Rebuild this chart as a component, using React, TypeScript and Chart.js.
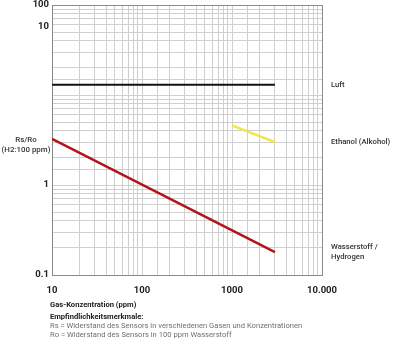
import React, { useEffect, useRef } from "react";
import { Chart, registerables } from "chart.js";

Chart.register(...registerables);

// ---- data ----
const luftConcentration = [10, 3000];
const luftValues = [13, 13];
const ethanolConcentration = [1000, 3000];
const ethanolValues = [4.6, 3.0];
const hydrogenConcentration = [10, 3000];
const hydrogenValues = [3.25, 0.18];

const seriesNames = ["Luft", "Ethanol (Alkohol)", "Wasserstoff / Hydrogen"];
const seriesLabelLines = [["Luft"], ["Ethanol (Alkohol)"], ["Wasserstoff /", "Hydrogen"]];
const seriesColors = ["#111111", "#eee64a", "#b3141c"];

const xTickValues = [10, 100, 1000, 10000];
const xTickLabels = ["10", "100", "1000", "10.000"];
// the reference places its "10" label high up on the axis
const yTickValues = [0.1, 1, 57, 100];
const yTickLabels = ["0.1", "1", "10", "100"];

const yTitleLines = ["Rs/Ro", "(H2:100 ppm)"];
const xTitle = "Gas-Konzentration (ppm)";
const noteTitle = "Empfindlichkeitsmerkmale:";
const noteLines = [
  "Rs = Widerstand des Sensors in verschiedenen Gasen und Konzentrationen",
  "Ro = Widerstand des Sensors in 100 ppm Wasserstoff",
];

const FONT = "Roboto, 'Noto Sans', sans-serif";
const GRID = "#cfcfcf";
const BORDER = "#8a8a8a";

function near(a: number, b: number) {
  return Math.abs(a - b) < 1e-6 * Math.max(1, Math.abs(b));
}

function toPoints(xs: number[], ys: number[]) {
  return xs.map((x, i) => ({ x, y: ys[i] }));
}

const textPlugin = {
  id: "textPlugin",
  afterDraw(chart: any) {
    const ctx = chart.ctx as CanvasRenderingContext2D;
    const { left, right, top, bottom } = chart.chartArea;
    const yScale = chart.scales.y;
    ctx.save();
    ctx.textBaseline = "middle";
    // series labels on the right
    ctx.fillStyle = "#333333";
    ctx.font = `500 7.7px ${FONT}`;
    ctx.textAlign = "left";
    seriesLabelLines.forEach((lines, i) => {
      const ds = chart.data.datasets[i];
      const last = ds.data[ds.data.length - 1];
      const y = yScale.getPixelForValue(last.y);
      lines.forEach((l, j) => {
        ctx.fillText(l, right + 9, y + (j - (lines.length - 1) / 2) * 9.5);
      });
    });
    // y title on the left
    ctx.textAlign = "center";
    ctx.font = `500 7.9px ${FONT}`;
    const mid = (top + bottom) / 2 + 5;
    yTitleLines.forEach((l, j) => {
      ctx.fillText(l, left - 26, mid + (j - (yTitleLines.length - 1) / 2) * 9.5);
    });
    // footer
    ctx.textAlign = "left";
    ctx.fillStyle = "#222222";
    ctx.font = `bold 7.6px ${FONT}`;
    ctx.fillText(xTitle, left - 2, bottom + 30.5);
    ctx.font = `bold 7.6px ${FONT}`;
    ctx.fillText(noteTitle, left - 2, bottom + 42);
    ctx.fillStyle = "#6f6f6f";
    ctx.font = `7.6px ${FONT}`;
    noteLines.forEach((l, j) => {
      ctx.fillText(l, left - 2, bottom + 51 + j * 8.7);
    });
    ctx.restore();
  },
};

export default function App() {
  const ref = useRef<HTMLCanvasElement | null>(null);

  useEffect(() => {
    if (!ref.current) return;
    const chart = new Chart(ref.current, {
      type: "line",
      data: {
        datasets: [
          {
            label: seriesNames[0],
            data: toPoints(luftConcentration, luftValues),
            borderColor: seriesColors[0],
            borderWidth: 2.2,
            pointRadius: 0,
          },
          {
            label: seriesNames[1],
            data: toPoints(ethanolConcentration, ethanolValues),
            borderColor: seriesColors[1],
            borderWidth: 2.5,
            pointRadius: 0,
          },
          {
            label: seriesNames[2],
            data: toPoints(hydrogenConcentration, hydrogenValues),
            borderColor: seriesColors[2],
            borderWidth: 2.5,
            pointRadius: 0,
          },
        ],
      },
      options: {
        animation: false,
        responsive: false,
        layout: { padding: { left: 0, right: 78, top: 5, bottom: 59 } },
        plugins: {
          legend: { display: false },
          tooltip: { enabled: false },
        },
        scales: {
          x: {
            type: "logarithmic",
            min: 10,
            max: 10000,
            afterFit(scale: any) {
              scale.height = 24;
              scale.paddingLeft = 0;
              scale.paddingRight = 0;
            },
            grid: {
              drawTicks: false,
              lineWidth: 1,
              color: (c: any) => (c.tick && near(c.tick.value, 10000) ? BORDER : GRID),
            },
            border: { display: true, color: BORDER, width: 1 },
            ticks: {
              autoSkip: false,
              maxRotation: 0,
              padding: 10,
              color: "#222222",
              font: { family: FONT, size: 9.5, weight: "bold" },
              callback: (v: any) => {
                const i = xTickValues.findIndex((t) => near(Number(v), t));
                return i >= 0 ? xTickLabels[i] : "";
              },
            },
          },
          y: {
            type: "logarithmic",
            min: 0.1,
            max: 100,
            afterFit(scale: any) {
              scale.width = 52;
              scale.paddingTop = 0;
              scale.paddingBottom = 0;
            },
            afterBuildTicks(scale: any) {
              yTickValues.forEach((v) => {
                if (!scale.ticks.some((t: any) => near(t.value, v))) {
                  scale.ticks.push({ value: v, major: false, extra: true });
                }
              });
              scale.ticks.sort((a: any, b: any) => a.value - b.value);
            },
            grid: {
              drawTicks: false,
              lineWidth: 1,
              color: (c: any) => {
                if (!c.tick) return GRID;
                if (c.tick.extra) return "rgba(0,0,0,0)";
                return near(c.tick.value, 100) ? BORDER : GRID;
              },
            },
            border: { display: true, color: BORDER, width: 1 },
            ticks: {
              autoSkip: false,
              padding: 3,
              color: "#222222",
              font: { family: FONT, size: 9.5, weight: "bold" },
              callback: (v: any) => {
                const i = yTickValues.findIndex((t) => near(Number(v), t));
                return i >= 0 ? yTickLabels[i] : "";
              },
            },
          },
        },
      },
      plugins: [textPlugin],
    } as any);
    return () => chart.destroy();
  }, []);

  return (
    <div style={{ position: "fixed", left: 0, top: 0, width: 400, height: 358, background: "#fff" }}>
      <canvas ref={ref} width={400} height={358} style={{ display: "block", width: 400, height: 358 }} />
    </div>
  );
}
